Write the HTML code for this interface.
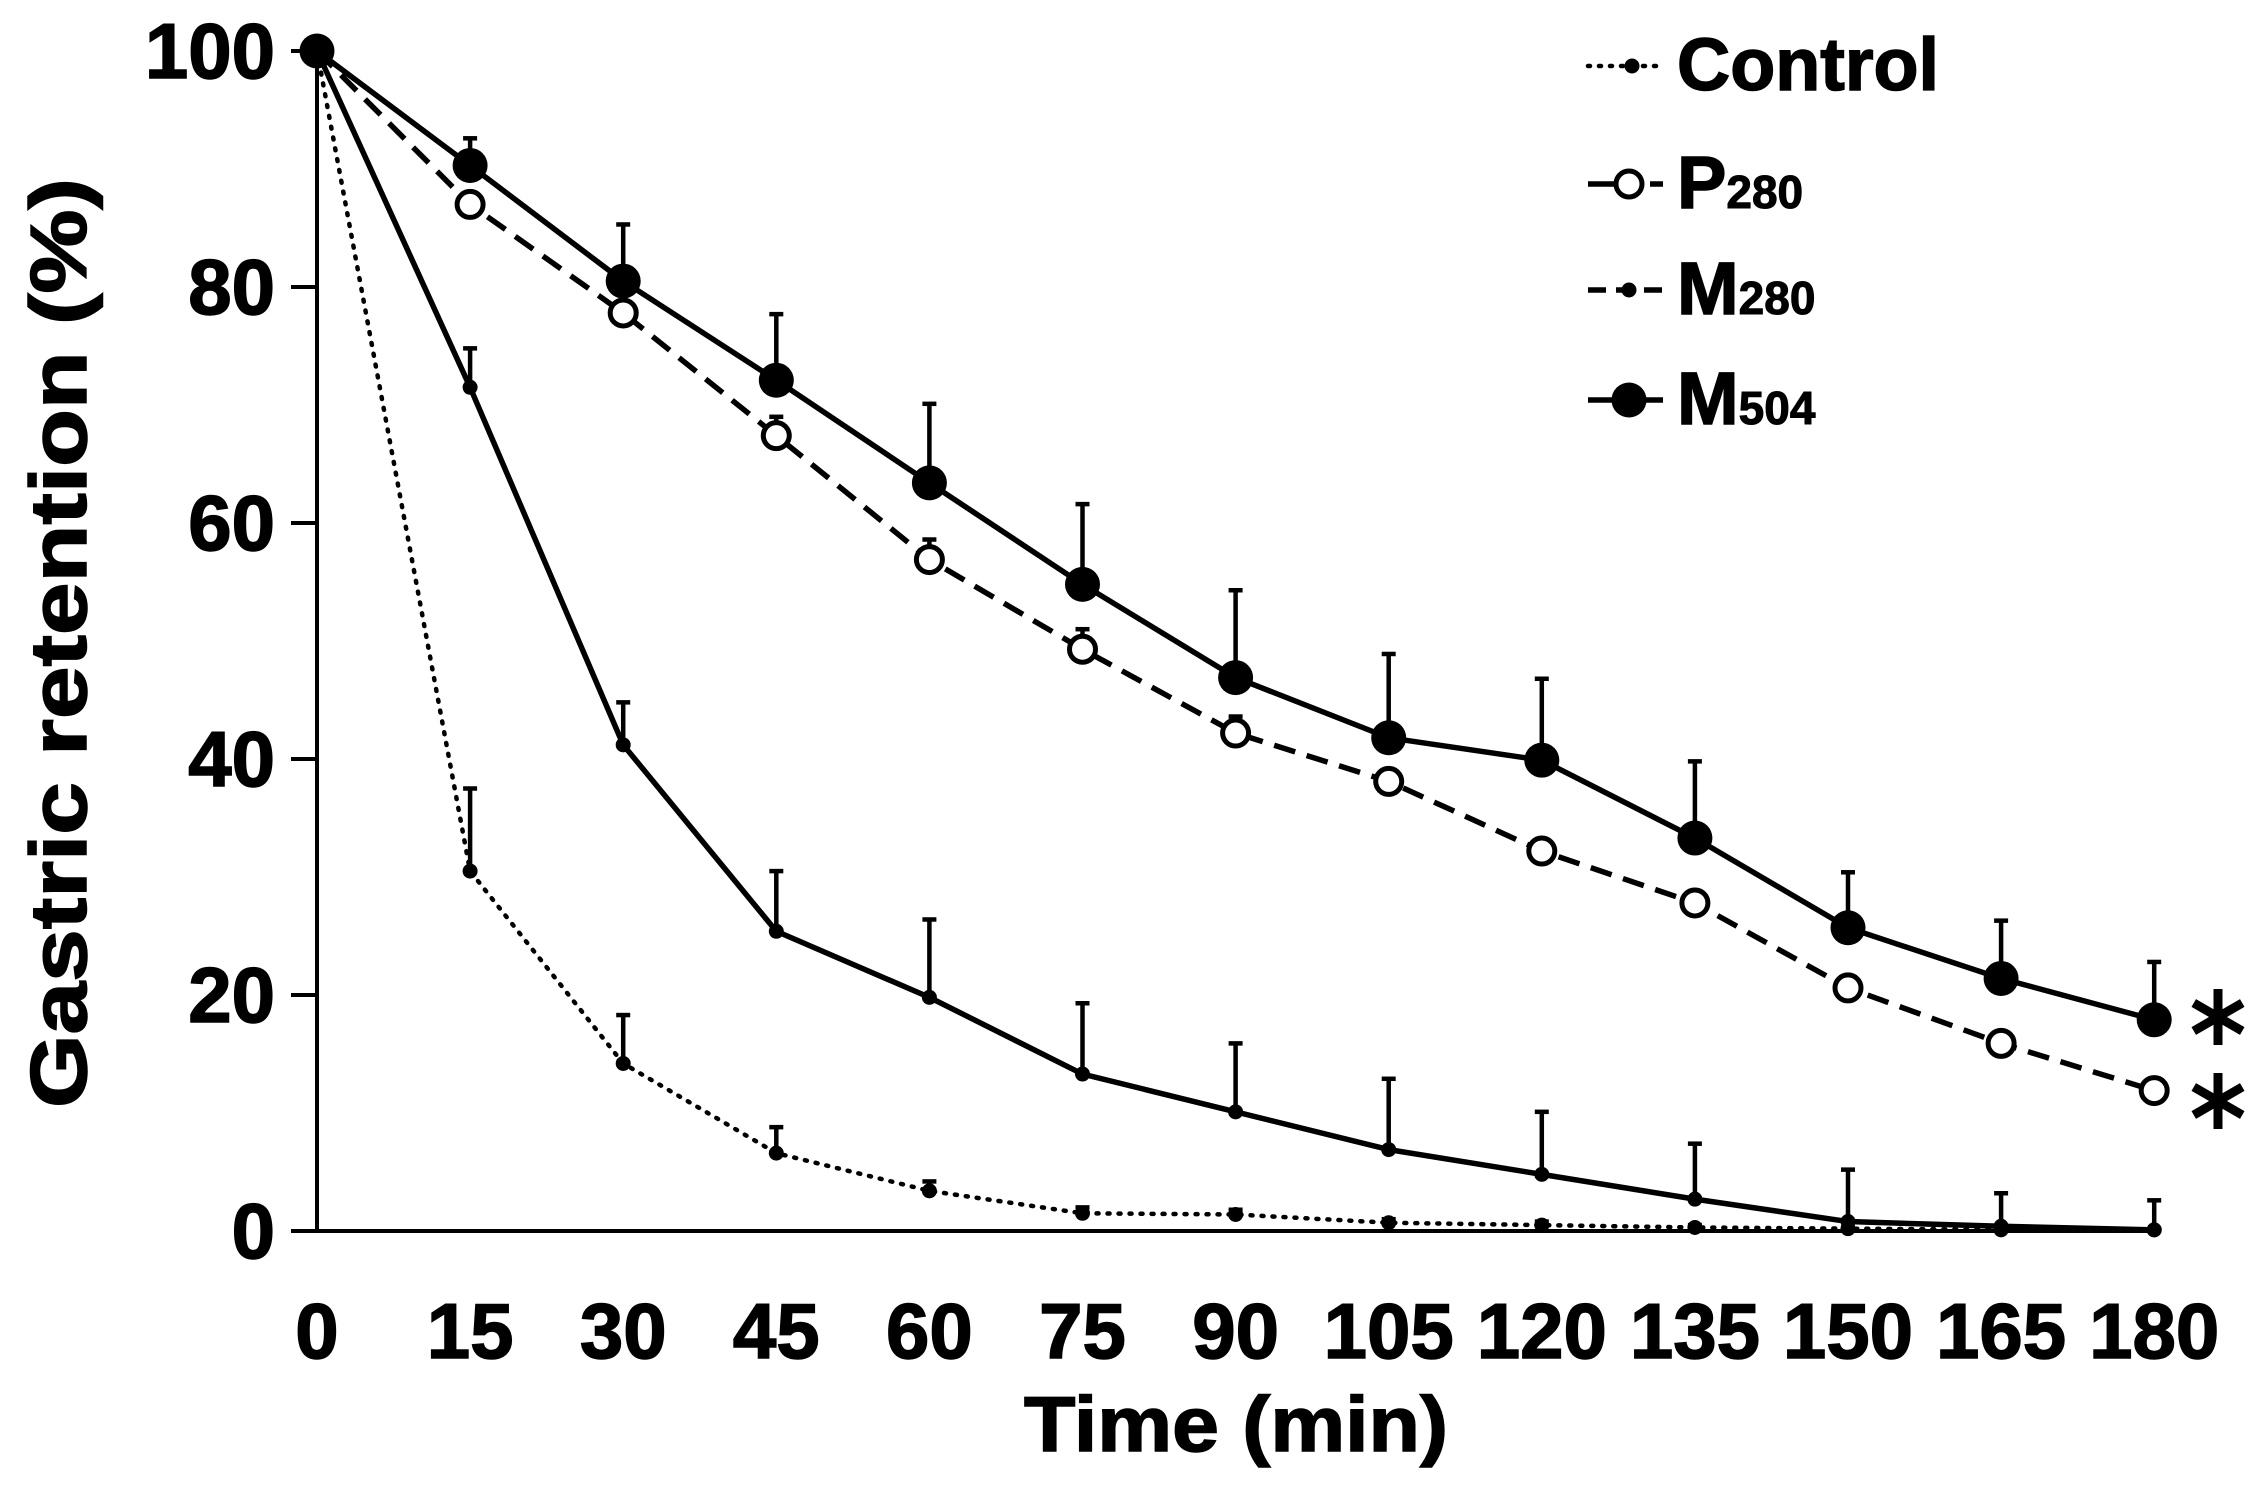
<!DOCTYPE html>
<html><head><meta charset="utf-8"><style>
html,body{margin:0;padding:0;background:#fff;}
svg{display:block;}
text{font-family:"Liberation Sans",Arial,sans-serif;font-weight:bold;fill:#000;stroke:#000;stroke-width:1.5;}
</style></head><body>
<svg id="s" width="2262" height="1488" viewBox="0 0 2262 1488" xmlns="http://www.w3.org/2000/svg">
<g id="g"></g>
<text x="1236" y="1451" font-size="78" text-anchor="middle" textLength="424" lengthAdjust="spacingAndGlyphs">Time (min)</text>
<text transform="translate(86,643) rotate(-90)" font-size="80" text-anchor="middle" textLength="930" lengthAdjust="spacingAndGlyphs">Gastric retention (%)</text>
<text x="1677" y="90" font-size="74" textLength="262" lengthAdjust="spacingAndGlyphs">Control</text>
<text x="1677" y="208" font-size="74">P<tspan font-size="46" stroke-width="1">280</tspan></text>
<text x="1677" y="314" font-size="74">M<tspan font-size="46" stroke-width="1">280</tspan></text>
<text x="1677" y="424" font-size="74">M<tspan font-size="46" stroke-width="1">504</tspan></text>
</svg>
<script>
var NS="http://www.w3.org/2000/svg",g=document.getElementById('g');
function X(t){return 317+t/15*153.1;}
function Y(v){return 1231-v*11.8;}
function el(n,a){var e=document.createElementNS(NS,n);for(var k in a)e.setAttribute(k,a[k]);g.appendChild(e);return e;}
function tx(x,y,s,sz,anc){var e=el('text',{x:x,y:y,'font-size':sz,'text-anchor':anc});e.textContent=s;}
el('line',{x1:317,y1:Y(100),x2:317,y2:1231,stroke:'#000','stroke-width':4});
el('line',{x1:291,y1:1231,x2:2160,y2:1231,stroke:'#000','stroke-width':4});
for(var v=0;v<=100;v+=20){el('line',{x1:291,y1:Y(v),x2:317,y2:Y(v),stroke:'#000','stroke-width':4});tx(275,Y(v)+27,v,78,'end');}
for(var t=0;t<=180;t+=15){tx(X(t),1358,t,78,'middle');}
var T=[0,15,30,45,60,75,90,105,120,135,150,165,180];
var S=[
 {d:[100,30.5,14.2,6.6,3.4,1.5,1.4,0.7,0.5,0.3,0.2,0.1,0.1],e:[0,37.5,18.3,8.8,4.2,2,1.8,1,0.8,0.5,0.3,0.2,0.1],dash:'2,9',m:'s'},
 {d:[100,71.5,41.2,25.4,19.8,13.3,10.1,6.9,4.8,2.7,0.8,0.4,0.1],e:[0,74.8,44.8,30.5,26.4,19.3,15.9,12.9,10.1,7.4,5.2,3.2,2.6],dash:'',m:'s'},
 {d:[100,87,77.8,67.4,56.9,49.3,42.2,38.1,32.2,27.8,20.6,15.9,11.9],e:[0,0,0,69,58.6,51,43.6,0,0,0,0,0,0],dash:'22,12',m:'o'},
 {d:[100,90.3,80.5,72.1,63.4,54.8,46.9,41.8,39.9,33.3,25.7,21.4,17.9],e:[0,92.6,85.3,77.7,70.1,61.6,54.3,48.9,46.8,39.8,30.4,26.3,22.8],dash:'',m:'f'}
];
S.forEach(function(s){
 for(var i=1;i<13;i++){if(s.e[i]>s.d[i]){el('line',{x1:X(T[i]),y1:Y(s.d[i]),x2:X(T[i]),y2:Y(s.e[i]),stroke:'#000','stroke-width':4.5});el('line',{x1:X(T[i])-7,y1:Y(s.e[i]),x2:X(T[i])+7,y2:Y(s.e[i]),stroke:'#000','stroke-width':4.5});}}
 var p=T.map(function(t,i){return X(t)+','+Y(s.d[i]);}).join(' ');
 var a={points:p,fill:'none',stroke:'#000','stroke-width':s.dash=='2,9'?4.5:5.5};
 if(s.dash)a['stroke-dasharray']=s.dash;
 if(s.dash=='2,9')a['stroke-linecap']='round';
 el('polyline',a);
});
S.forEach(function(s){
 T.forEach(function(t,i){
  if(s.m=='s')el('circle',{cx:X(t),cy:Y(s.d[i]),r:7.5,fill:'#000'});
  else if(s.m=='o')el('circle',{cx:X(t),cy:Y(s.d[i]),r:13,fill:'#fff',stroke:'#000','stroke-width':5});
  else el('circle',{cx:X(t),cy:Y(s.d[i]),r:17.5,fill:'#000'});
 });
});
var ly=[66,184,290,400];
el('line',{x1:1588,y1:ly[0],x2:1663,y2:ly[0],stroke:'#000','stroke-width':4.5,'stroke-dasharray':'2,9','stroke-linecap':'round'});
el('circle',{cx:1632,cy:ly[0],r:7.5,fill:'#000'});
el('line',{x1:1588,y1:ly[1],x2:1620,y2:ly[1],stroke:'#000','stroke-width':5.5});
el('line',{x1:1650,y1:ly[1],x2:1663,y2:ly[1],stroke:'#000','stroke-width':5.5});
el('circle',{cx:1629,cy:ly[1],r:13,fill:'#fff',stroke:'#000','stroke-width':5});
el('line',{x1:1588,y1:ly[2],x2:1663,y2:ly[2],stroke:'#000','stroke-width':5.5,'stroke-dasharray':'18,10'});
el('circle',{cx:1629,cy:ly[2],r:7.5,fill:'#000'});
el('line',{x1:1588,y1:ly[3],x2:1663,y2:ly[3],stroke:'#000','stroke-width':5.5});
el('circle',{cx:1629,cy:ly[3],r:17.5,fill:'#000'});
[[2218,1017],[2218,1101]].forEach(function(c){
 for(var k=0;k<3;k++){var an=Math.PI/2+k*Math.PI/3,dx=Math.cos(an)*28,dy=Math.sin(an)*28;
 el('line',{x1:c[0]-dx,y1:c[1]-dy,x2:c[0]+dx,y2:c[1]+dy,stroke:'#000','stroke-width':9});}
});
</script>
</body></html>
